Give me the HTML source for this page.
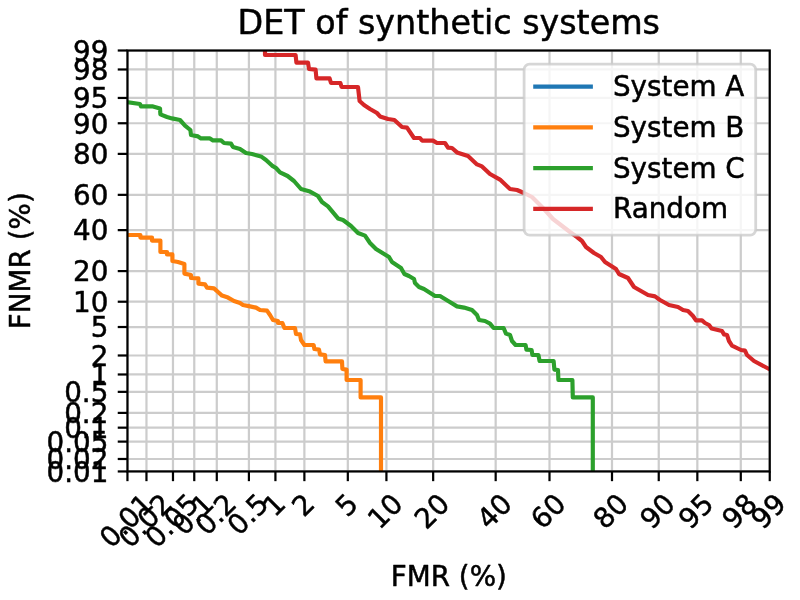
<!DOCTYPE html>
<html lang="en"><head><meta charset="utf-8"><title>DET of synthetic systems</title>
<style>html,body{margin:0;padding:0;background:#fff;overflow:hidden}svg{display:block}text{font-family:"DejaVu Sans","Liberation Sans",sans-serif;fill:#000;stroke:#000;stroke-width:0.5px;stroke-linejoin:round}</style></head><body>
<svg width="800" height="600" viewBox="0 0 800 600">
<rect x="0" y="0" width="800" height="600" fill="#ffffff"/>
<defs><clipPath id="ax"><rect x="127.45" y="50.5" width="642.3" height="420.95"/></clipPath></defs>
<g stroke="#cccccc" stroke-width="2.222" fill="none" stroke-linecap="square" clip-path="url(#ax)">
<line x1="127.45" y1="471.45" x2="127.45" y2="50.5"/>
<line x1="146.46" y1="471.45" x2="146.46" y2="50.5"/>
<line x1="172.98" y1="471.45" x2="172.98" y2="50.5"/>
<line x1="194.26" y1="471.45" x2="194.26" y2="50.5"/>
<line x1="216.79" y1="471.45" x2="216.79" y2="50.5"/>
<line x1="248.91" y1="471.45" x2="248.91" y2="50.5"/>
<line x1="275.42" y1="471.45" x2="275.42" y2="50.5"/>
<line x1="304.38" y1="471.45" x2="304.38" y2="50.5"/>
<line x1="347.82" y1="471.45" x2="347.82" y2="50.5"/>
<line x1="386.42" y1="471.45" x2="386.42" y2="50.5"/>
<line x1="433.16" y1="471.45" x2="433.16" y2="50.5"/>
<line x1="495.67" y1="471.45" x2="495.67" y2="50.5"/>
<line x1="549.50" y1="471.45" x2="549.50" y2="50.5"/>
<line x1="612.00" y1="471.45" x2="612.00" y2="50.5"/>
<line x1="658.74" y1="471.45" x2="658.74" y2="50.5"/>
<line x1="697.34" y1="471.45" x2="697.34" y2="50.5"/>
<line x1="740.79" y1="471.45" x2="740.79" y2="50.5"/>
<line x1="769.75" y1="471.45" x2="769.75" y2="50.5"/>
<line x1="127.45" y1="471.45" x2="769.75" y2="471.45"/>
<line x1="127.45" y1="458.99" x2="769.75" y2="458.99"/>
<line x1="127.45" y1="441.61" x2="769.75" y2="441.61"/>
<line x1="127.45" y1="427.67" x2="769.75" y2="427.67"/>
<line x1="127.45" y1="412.90" x2="769.75" y2="412.90"/>
<line x1="127.45" y1="391.85" x2="769.75" y2="391.85"/>
<line x1="127.45" y1="374.48" x2="769.75" y2="374.48"/>
<line x1="127.45" y1="355.49" x2="769.75" y2="355.49"/>
<line x1="127.45" y1="327.02" x2="769.75" y2="327.02"/>
<line x1="127.45" y1="301.72" x2="769.75" y2="301.72"/>
<line x1="127.45" y1="271.09" x2="769.75" y2="271.09"/>
<line x1="127.45" y1="230.13" x2="769.75" y2="230.13"/>
<line x1="127.45" y1="194.85" x2="769.75" y2="194.85"/>
<line x1="127.45" y1="153.88" x2="769.75" y2="153.88"/>
<line x1="127.45" y1="123.25" x2="769.75" y2="123.25"/>
<line x1="127.45" y1="97.95" x2="769.75" y2="97.95"/>
<line x1="127.45" y1="69.48" x2="769.75" y2="69.48"/>
<line x1="127.45" y1="50.50" x2="769.75" y2="50.50"/>
</g>
<g fill="none" stroke-width="4.167" stroke-linejoin="round" stroke-linecap="square" clip-path="url(#ax)">
<polyline stroke="#ff7f0e" points="128.4,235.0 140.4,235.0 140.4,237.6 152.0,237.6 152.0,240.6 160.4,240.6 160.4,252.0 167.0,252.0 167.0,254.4 172.4,254.4 172.4,261.0 178.0,262.0 184.4,264.0 184.4,273.6 191.0,275.0 191.0,278.0 198.4,278.4 198.4,283.6 205.0,284.4 207.0,287.6 214.0,288.4 218.0,292.0 222.0,295.6 228.0,297.6 234.0,301.0 240.0,303.0 243.0,305.0 250.0,306.4 256.0,307.6 260.0,310.0 267.0,310.6 270.0,315.0 273.0,320.0 278.0,321.0 278.0,323.0 282.4,323.0 284.4,328.0 295.0,328.0 296.0,334.0 300.0,334.4 301.0,340.0 304.4,345.0 313.6,345.0 314.4,349.0 319.0,349.6 320.0,354.4 325.0,355.0 325.6,361.4 342.0,361.4 342.4,369.0 346.6,369.6 346.6,380.0 360.6,380.0 360.6,397.4 381.0,397.4 381.0,471.2"/>
<polyline stroke="#2ca02c" points="128.4,102.4 140.0,104.0 141.0,106.4 153.0,106.4 160.0,108.4 160.4,114.4 167.0,117.0 172.0,118.4 180.0,120.0 185.0,125.6 190.4,130.0 191.0,135.0 198.0,136.4 201.0,138.4 210.0,138.4 213.0,140.4 221.0,140.4 224.0,143.0 231.0,143.6 233.0,147.0 240.0,149.0 246.0,153.0 252.0,154.0 261.0,156.4 266.0,160.0 272.0,165.6 276.0,168.0 280.0,172.4 287.6,176.0 294.0,181.0 301.0,189.0 310.0,191.6 318.0,196.0 322.0,202.0 328.0,206.4 338.0,218.4 343.0,220.0 351.0,226.0 358.0,233.0 365.0,235.6 370.0,243.0 376.0,249.0 389.0,257.0 392.0,262.0 401.0,268.0 404.4,274.0 409.0,276.0 414.0,279.0 415.0,283.0 419.0,287.0 424.0,289.0 435.0,296.0 440.0,296.0 449.0,301.6 457.0,306.4 464.0,307.6 472.0,310.0 477.0,315.0 479.0,320.0 485.0,321.0 490.0,323.6 493.6,328.0 503.6,328.0 506.0,333.6 510.0,335.0 512.0,341.0 515.6,345.0 525.6,345.0 526.4,349.6 531.6,350.0 532.4,355.0 538.4,355.0 539.6,361.0 553.6,361.0 554.4,369.6 558.0,370.0 558.4,380.0 572.4,380.0 572.8,397.4 592.8,397.4 592.8,471.2"/>
<polyline stroke="#d62728" points="265.0,50.2 265.0,55.0 295.6,55.0 296.4,62.6 308.0,62.6 309.0,69.0 315.6,69.6 316.4,78.4 329.6,78.4 331.0,83.0 340.4,83.0 341.6,87.0 358.0,87.0 359.6,101.0 364.0,105.0 370.0,109.0 377.0,113.0 380.0,116.4 388.0,119.0 394.4,120.0 402.0,127.0 407.0,127.6 414.0,138.0 420.0,138.0 422.0,140.6 433.0,140.6 437.0,143.0 445.0,143.0 448.0,147.6 452.0,148.0 457.0,152.4 468.0,156.0 477.0,164.4 482.0,166.4 490.0,174.0 500.0,179.6 510.0,189.0 517.0,190.0 524.0,193.0 532.0,197.0 544.0,209.0 553.0,219.0 570.0,232.0 577.0,237.0 582.0,241.0 586.0,247.0 594.0,253.0 601.0,257.0 605.0,262.0 616.0,269.0 619.0,274.0 628.0,278.0 632.0,284.0 634.0,287.0 641.0,291.0 648.0,295.0 655.0,296.4 660.0,300.0 669.0,305.0 678.0,307.0 683.0,310.0 688.0,311.0 693.0,316.0 696.0,320.4 702.0,320.4 705.0,323.0 709.0,325.0 711.6,328.4 722.0,331.0 724.0,334.4 727.0,335.0 729.0,341.0 732.0,345.6 741.0,350.0 745.0,350.6 747.0,355.0 754.0,361.0 769.8,369.4"/>
</g>
<g stroke="#000" stroke-width="2.222" fill="none">
<line x1="127.45" y1="471.45" x2="127.45" y2="481.17"/>
<line x1="146.46" y1="471.45" x2="146.46" y2="481.17"/>
<line x1="172.98" y1="471.45" x2="172.98" y2="481.17"/>
<line x1="194.26" y1="471.45" x2="194.26" y2="481.17"/>
<line x1="216.79" y1="471.45" x2="216.79" y2="481.17"/>
<line x1="248.91" y1="471.45" x2="248.91" y2="481.17"/>
<line x1="275.42" y1="471.45" x2="275.42" y2="481.17"/>
<line x1="304.38" y1="471.45" x2="304.38" y2="481.17"/>
<line x1="347.82" y1="471.45" x2="347.82" y2="481.17"/>
<line x1="386.42" y1="471.45" x2="386.42" y2="481.17"/>
<line x1="433.16" y1="471.45" x2="433.16" y2="481.17"/>
<line x1="495.67" y1="471.45" x2="495.67" y2="481.17"/>
<line x1="549.50" y1="471.45" x2="549.50" y2="481.17"/>
<line x1="612.00" y1="471.45" x2="612.00" y2="481.17"/>
<line x1="658.74" y1="471.45" x2="658.74" y2="481.17"/>
<line x1="697.34" y1="471.45" x2="697.34" y2="481.17"/>
<line x1="740.79" y1="471.45" x2="740.79" y2="481.17"/>
<line x1="769.75" y1="471.45" x2="769.75" y2="481.17"/>
<line x1="127.45" y1="471.45" x2="117.73" y2="471.45"/>
<line x1="127.45" y1="458.99" x2="117.73" y2="458.99"/>
<line x1="127.45" y1="441.61" x2="117.73" y2="441.61"/>
<line x1="127.45" y1="427.67" x2="117.73" y2="427.67"/>
<line x1="127.45" y1="412.90" x2="117.73" y2="412.90"/>
<line x1="127.45" y1="391.85" x2="117.73" y2="391.85"/>
<line x1="127.45" y1="374.48" x2="117.73" y2="374.48"/>
<line x1="127.45" y1="355.49" x2="117.73" y2="355.49"/>
<line x1="127.45" y1="327.02" x2="117.73" y2="327.02"/>
<line x1="127.45" y1="301.72" x2="117.73" y2="301.72"/>
<line x1="127.45" y1="271.09" x2="117.73" y2="271.09"/>
<line x1="127.45" y1="230.13" x2="117.73" y2="230.13"/>
<line x1="127.45" y1="194.85" x2="117.73" y2="194.85"/>
<line x1="127.45" y1="153.88" x2="117.73" y2="153.88"/>
<line x1="127.45" y1="123.25" x2="117.73" y2="123.25"/>
<line x1="127.45" y1="97.95" x2="117.73" y2="97.95"/>
<line x1="127.45" y1="69.48" x2="117.73" y2="69.48"/>
<line x1="127.45" y1="50.50" x2="117.73" y2="50.50"/>
<rect x="127.45" y="50.5" width="642.3" height="420.95" stroke-linejoin="miter"/>
</g>
<rect x="524.1" y="64.2" width="231.6" height="170.9" rx="5.56" ry="5.56" fill="#ffffff" fill-opacity="0.8" stroke="#cccccc" stroke-opacity="0.8" stroke-width="2.778"/>
<g fill="none" stroke-width="4.167" stroke-linecap="square">
<line x1="535.3" y1="86.7" x2="590.8" y2="86.7" stroke="#1f77b4"/>
<line x1="535.3" y1="127.4" x2="590.8" y2="127.4" stroke="#ff7f0e"/>
<line x1="535.3" y1="168.1" x2="590.8" y2="168.1" stroke="#2ca02c"/>
<line x1="535.3" y1="208.9" x2="590.8" y2="208.9" stroke="#d62728"/>
</g>
<text x="111.35" y="549.30" font-size="27.78" transform="rotate(-45 111.35 549.30)">0.01</text>
<text x="130.36" y="549.30" font-size="27.78" transform="rotate(-45 130.36 549.30)">0.02</text>
<text x="156.86" y="549.30" font-size="27.78" transform="rotate(-45 156.86 549.30)">0.05</text>
<text x="184.38" y="536.81" font-size="27.78" transform="rotate(-45 184.38 536.81)">0.1</text>
<text x="206.90" y="536.81" font-size="27.78" transform="rotate(-45 206.90 536.81)">0.2</text>
<text x="239.00" y="536.81" font-size="27.78" transform="rotate(-45 239.00 536.81)">0.5</text>
<text x="274.87" y="518.07" font-size="27.78" transform="rotate(-45 274.87 518.07)">1</text>
<text x="303.82" y="518.07" font-size="27.78" transform="rotate(-45 303.82 518.07)">2</text>
<text x="347.24" y="518.07" font-size="27.78" transform="rotate(-45 347.24 518.07)">5</text>
<text x="379.57" y="530.56" font-size="27.78" transform="rotate(-45 379.57 530.56)">10</text>
<text x="426.29" y="530.56" font-size="27.78" transform="rotate(-45 426.29 530.56)">20</text>
<text x="488.77" y="530.56" font-size="27.78" transform="rotate(-45 488.77 530.56)">40</text>
<text x="542.58" y="530.56" font-size="27.78" transform="rotate(-45 542.58 530.56)">60</text>
<text x="605.05" y="530.56" font-size="27.78" transform="rotate(-45 605.05 530.56)">80</text>
<text x="651.77" y="530.56" font-size="27.78" transform="rotate(-45 651.77 530.56)">90</text>
<text x="690.35" y="530.56" font-size="27.78" transform="rotate(-45 690.35 530.56)">95</text>
<text x="733.77" y="530.56" font-size="27.78" transform="rotate(-45 733.77 530.56)">98</text>
<text x="762.72" y="530.56" font-size="27.78" transform="rotate(-45 762.72 530.56)">99</text>
<text x="448.80" y="586.11" font-size="27.78" text-anchor="middle">FMR (%)</text>
<text x="108.36" y="481.75" font-size="27.78" text-anchor="end">0.01</text>
<text x="108.36" y="469.29" font-size="27.78" text-anchor="end">0.02</text>
<text x="108.36" y="451.91" font-size="27.78" text-anchor="end">0.05</text>
<text x="108.36" y="437.96" font-size="27.78" text-anchor="end">0.1</text>
<text x="108.36" y="423.20" font-size="27.78" text-anchor="end">0.2</text>
<text x="108.36" y="402.14" font-size="27.78" text-anchor="end">0.5</text>
<text x="108.36" y="384.77" font-size="27.78" text-anchor="end">1</text>
<text x="108.36" y="365.78" font-size="27.78" text-anchor="end">2</text>
<text x="108.36" y="337.31" font-size="27.78" text-anchor="end">5</text>
<text x="108.36" y="312.01" font-size="27.78" text-anchor="end">10</text>
<text x="108.36" y="281.37" font-size="27.78" text-anchor="end">20</text>
<text x="108.36" y="240.40" font-size="27.78" text-anchor="end">40</text>
<text x="108.36" y="205.12" font-size="27.78" text-anchor="end">60</text>
<text x="108.36" y="164.15" font-size="27.78" text-anchor="end">80</text>
<text x="108.36" y="133.51" font-size="27.78" text-anchor="end">90</text>
<text x="108.36" y="108.21" font-size="27.78" text-anchor="end">95</text>
<text x="108.36" y="79.74" font-size="27.78" text-anchor="end">98</text>
<text x="108.36" y="60.75" font-size="27.78" text-anchor="end">99</text>
<text x="30.02" y="260.70" font-size="27.78" text-anchor="middle" transform="rotate(-90 30.02 260.70)">FNMR (%)</text>
<text x="448.80" y="33.53" font-size="33.33" text-anchor="middle">DET of synthetic systems</text>
<text x="612.99" y="96.10" font-size="27.78">System A</text>
<text x="612.99" y="136.80" font-size="27.78">System B</text>
<text x="612.99" y="177.50" font-size="27.78">System C</text>
<text x="612.99" y="218.30" font-size="27.78">Random</text>
</svg></body></html>
